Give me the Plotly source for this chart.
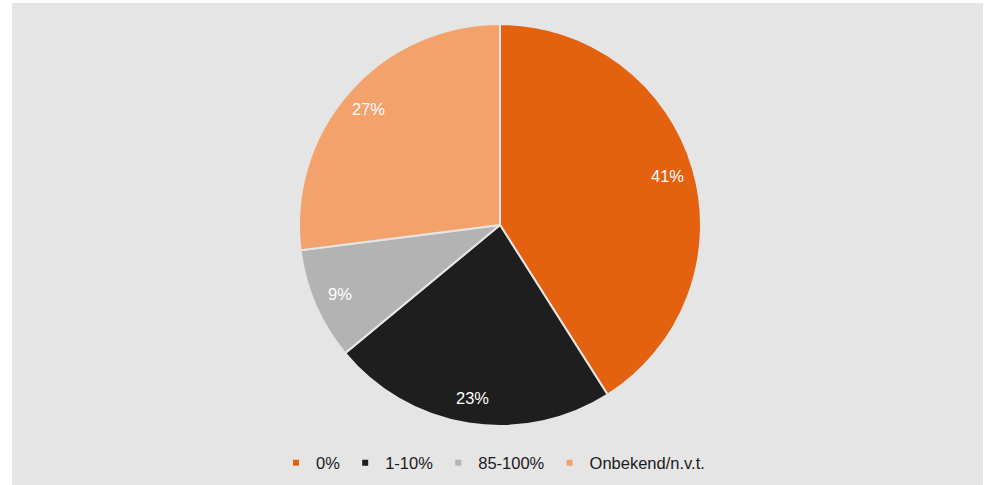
import math
import plotly.graph_objects as go

categories = ["0%", "1-10%", "85-100%", "Onbekend/n.v.t."]
values = [41, 23, 9, 27]
colors = ["#E3610F", "#1E1E1E", "#B3B3B3", "#F4A26B"]

W, H = 986, 485
BG = "#E5E5E5"
FONT = "Liberation Sans, Arial, sans-serif"

# pie geometry (pixels)
CX, CY, R = 500, 225, 201
LABEL_R = 0.87

fig = go.Figure()
fig.add_trace(go.Pie(
    labels=categories,
    values=values,
    sort=False,
    direction="clockwise",
    rotation=0,
    marker=dict(colors=colors, line=dict(color=BG, width=2)),
    textinfo="none",
    showlegend=False,
    hoverinfo="label+percent",
    domain=dict(x=[(CX - R) / W, (CX + R) / W], y=[1 - (CY + R) / H, 1 - (CY - R) / H]),
))

# percentage labels placed near the outer part of each slice
total = sum(values)
annotations = []
cum = 0
for v in values:
    mid = (cum + v / 2) / total * 2 * math.pi
    cum += v
    px = CX + LABEL_R * R * math.sin(mid)
    py = CY - LABEL_R * R * math.cos(mid)
    annotations.append(dict(
        x=px / W, y=1 - py / H, xref="paper", yref="paper",
        text=f"{round(v / total * 100)}%", showarrow=False,
        xanchor="center", yanchor="middle",
        font=dict(color="white", size=16.5, family=FONT),
    ))

# legend entries with small square markers
for cat, col in zip(categories, colors):
    fig.add_trace(go.Scatter(
        x=[None], y=[None], mode="markers", name=cat,
        marker=dict(symbol="square", size=6, color=col),
        showlegend=True,
    ))

fig.update_layout(
    width=W, height=H,
    margin=dict(l=0, r=0, t=0, b=0),
    paper_bgcolor="white",
    plot_bgcolor="rgba(0,0,0,0)",
    xaxis=dict(visible=False),
    yaxis=dict(visible=False),
    font=dict(family=FONT, size=16.5, color="#1a1a1a"),
    legend=dict(
        orientation="h", x=0.5, xanchor="center", y=1 - 463 / H, yanchor="middle",
        bgcolor="rgba(0,0,0,0)", itemsizing="trace", itemwidth=30,
        font=dict(size=16.5),
    ),
    annotations=annotations,
    shapes=[dict(
        type="rect", xref="paper", yref="paper", layer="below",
        x0=12 / W, x1=983 / W, y0=0, y1=1 - 3 / H,
        fillcolor=BG, line=dict(width=0),
    )],
)

fig.write_html(
    "out.html",
    config={"displayModeBar": False},
    post_script="document.body.style.margin='0';",
)
